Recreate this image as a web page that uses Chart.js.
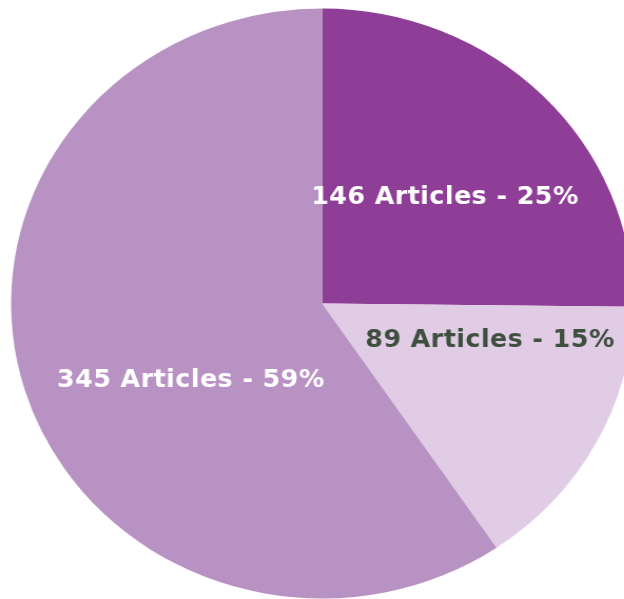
<!DOCTYPE html>
<html>
<head>
<meta charset="utf-8">
<script src="https://cdn.jsdelivr.net/npm/chart.js@4"></script>
<style>
  html, body { margin: 0; padding: 0; background: #fff; overflow: hidden; }
  #wrap {
    position: absolute; left: 0; top: 0;
    width: 620px; height: 599px;
    transform: scaleX(1.0542); transform-origin: 0 0;
  }
</style>
</head>
<body>
<div id="wrap"><canvas id="pieChart"></canvas></div>
<script>
// data
const categories = ["Group A", "Group B", "Group C"];
const articleCounts = [146, 89, 345];
const sliceColors = ["#8e3e96", "#e0cde5", "#b892c3"];
const labelColors = ["#ffffff", "#3f4f3f", "#ffffff"];

const total = articleCounts.reduce((a, b) => a + b, 0);
const labelTexts = articleCounts.map(
  (v) => `${v} Articles - ${Math.round((v / total) * 100)}%`
);

// where each label sits, in units of the radius from the pie centre
const labelAnchors = [
  [0.395, -0.36],
  [0.54, 0.128],
  [-0.422, 0.263],
];

const sliceLabels = {
  id: "sliceLabels",
  afterDatasetsDraw(chart) {
    const ctx = chart.ctx;
    const arcs = chart.getDatasetMeta(0).data;
    ctx.save();
    ctx.font = "bold 24px 'DejaVu Sans', Verdana, sans-serif";
    ctx.letterSpacing = "0.45px";
    ctx.textAlign = "center";
    ctx.textBaseline = "middle";
    arcs.forEach((arc, i) => {
      const r = arc.outerRadius;
      const x = arc.x + labelAnchors[i][0] * r;
      const y = arc.y + labelAnchors[i][1] * r;
      ctx.fillStyle = labelColors[i];
      ctx.fillText(labelTexts[i], x, y);
    });
    ctx.restore();
  },
};

new Chart(document.getElementById("pieChart"), {
  type: "pie",
  data: {
    labels: categories,
    datasets: [
      {
        data: articleCounts,
        backgroundColor: sliceColors,
        borderWidth: 0,
      },
    ],
  },
  options: {
    responsive: true,
    maintainAspectRatio: false,
    animation: false,
    layout: { padding: { top: 8.5, bottom: 0.5, left: 10.5, right: 19.5 } },
    plugins: {
      legend: { display: false },
      tooltip: { enabled: false },
    },
  },
  plugins: [sliceLabels],
});
</script>
</body>
</html>
